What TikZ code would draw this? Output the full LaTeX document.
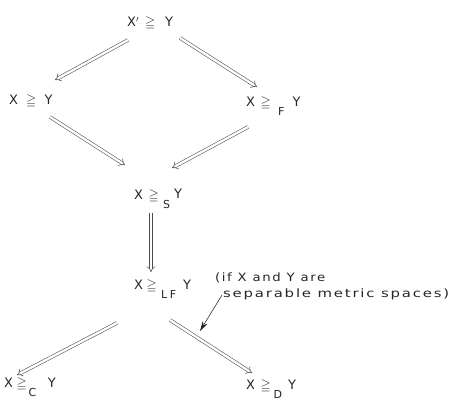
\documentclass[tikz,border=0pt]{standalone}
\usepackage{amssymb}
\usepackage{graphicx}
\usepackage{fontspec}
\setmainfont{DejaVu Sans}
\newfontfamily\notefont[LetterSpace=12]{DejaVu Sans}
\usetikzlibrary{arrows.meta,calc}
\newcommand{\gq}{\ensuremath{\geqq}}
\newcommand{\lo}[1]{\raisebox{-9pt}{\fontsize{11}{12}\selectfont #1}}
\newcommand{\fitw}[2]{\resizebox{#1}{\height}{#2}}
\begin{document}
\begin{tikzpicture}[x=1pt,y=-1pt,
  rel/.style={inner sep=0pt,anchor=base west,font=\fontsize{13}{15}\selectfont,text=black!85},
  dbl/.style={draw=black!70,double=white,double distance=2.4pt,line width=0.55pt,-{Implies[]}},
  note/.style={inner sep=0pt,anchor=base west,text=black!85,font=\notefont\fontsize{11.5}{13}\selectfont},
  ptr/.style={draw=black!85,line width=0.55pt,-{Stealth[length=10pt,width=5.5pt]}}]
\useasboundingbox (0,0) rectangle (451,406);
\node[rel] (top) at (127,27) {X\rlap{$'$}\hspace{9pt}\gq\hspace{10pt}Y};
\node[rel] (L) at (9,105) {X\hspace{8pt}\gq\hspace{8.5pt}Y};
\node[rel] (F) at (246,107) {X\hspace{5.5pt}\gq\hspace{7.5pt}\lo{F}\hspace{8pt}Y};
\node[rel] (S) at (134,200) {X\hspace{5.5pt}\gq\hspace{4.5pt}\lo{S}\hspace{4pt}\raisebox{1.5pt}{Y}};
\node[rel] (LF) at (134,290) {X\hspace{3.5pt}\gq\hspace{4.5pt}\lo{L\hspace{2.5pt}F}\hspace{7pt}Y};
\node[rel] (C) at (4,388) {X\hspace{3.5pt}\gq\hspace{2pt}\lo{C}\hspace{11.5pt}Y};
\node[rel] (D) at (246,390) {X\hspace{5.5pt}\gq\hspace{3pt}\lo{D}\hspace{6pt}Y};
\node[note] (n1) at (215,282) {\fitw{110pt}{(if X and Y are}};
\node[note] (n2) at (223,298) {\fitw{226pt}{separable metric spaces)}};
\coordinate (pe) at (200,331);
\draw[dbl] ([shift={(1,13)}]top.base west) -- ([shift={(46,-25)}]L.base west);
\draw[dbl] ([shift={(53,11)}]top.base west) -- ([shift={(11,-20)}]F.base west);
\draw[dbl] ([shift={(41,12)}]L.base west) -- ([shift={(-9,-35)}]S.base west);
\draw[dbl] ([shift={(2,20)}]F.base west) -- ([shift={(38,-32)}]S.base west);
\draw[dbl] ([shift={(17,13)}]S.base west) -- ([shift={(17,-18)}]LF.base west);
\draw[dbl] ([shift={(-17,33)}]LF.base west) -- ([shift={(13,-13)}]C.base west);
\draw[dbl] ([shift={(36,30)}]LF.base west) -- ([shift={(6,-17)}]D.base west);
\draw[ptr] ([shift={(-1,-3)}]n2.base west) -- (pe);
\end{tikzpicture}
\end{document}
